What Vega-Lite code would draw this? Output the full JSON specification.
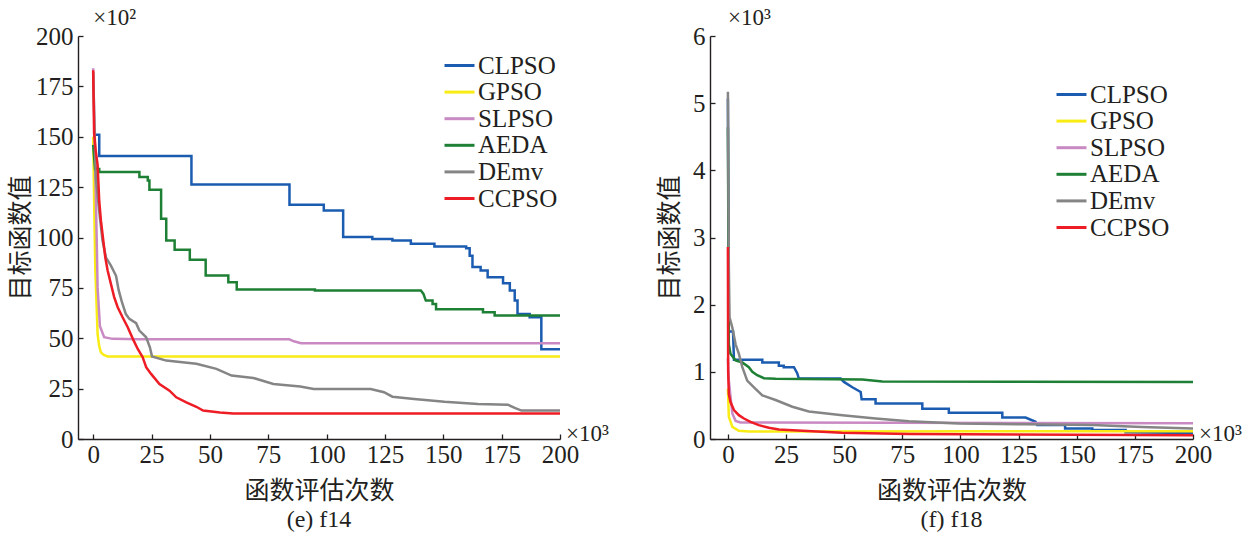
{
  "$schema": "https://vega.github.io/schema/vega-lite/v6.json",
  "autosize": {"type": "pad"},
  "padding": {"left": 8, "top": 7, "right": 5, "bottom": 5},
  "bounds": "flush",
  "spacing": 150,
  "background": "white",
  "config": {
    "view": {"stroke": null},
    "font": "Liberation Serif",
    "axis": {"domainColor": "#231f20", "domainWidth": 1.4, "tickColor": "#231f20", "tickWidth": 1.3, "tickSize": -5, "labelFont": "Liberation Serif", "labelFontSize": 25, "labelColor": "#231f20", "labelFlush": false, "labelOverlap": false, "grid": false, "titleFont": "Noto Sans CJK SC", "titleFontSize": 25, "titleFontWeight": "normal", "titleColor": "#231f20"},
    "axisX": {"labelPadding": 8, "titlePadding": 11, "labelAngle": 0},
    "axisY": {"labelPadding": 10, "titlePadding": 2},
    "legend": {"orient": "none", "title": null, "symbolType": "M-1.5,0H1.5", "symbolSize": 400, "symbolStrokeWidth": 3, "labelFont": "Liberation Serif", "labelFontSize": 25, "labelColor": "#231f20", "rowPadding": 0.6, "labelOffset": 6}
  },
  "datasets": {
    "e": [
      {"algo":"CLPSO","x":0,"y":151},{"algo":"CLPSO","x":2.6,"y":151},{"algo":"CLPSO","x":2.6,"y":140.5},{"algo":"CLPSO","x":42.1,"y":140.5},{"algo":"CLPSO","x":42.1,"y":126.3},{"algo":"CLPSO","x":84.1,"y":126.3},{"algo":"CLPSO","x":84.1,"y":116.2},{"algo":"CLPSO","x":98.8,"y":116.2},{"algo":"CLPSO","x":98.8,"y":113.4},{"algo":"CLPSO","x":107.1,"y":113.4},{"algo":"CLPSO","x":107.1,"y":100.2},{"algo":"CLPSO","x":119.6,"y":100.2},{"algo":"CLPSO","x":119.6,"y":99.3},{"algo":"CLPSO","x":128.2,"y":99.3},{"algo":"CLPSO","x":128.2,"y":98.5},{"algo":"CLPSO","x":136.1,"y":98.5},{"algo":"CLPSO","x":136.1,"y":96.9},{"algo":"CLPSO","x":146.2,"y":96.9},{"algo":"CLPSO","x":146.2,"y":95.5},{"algo":"CLPSO","x":159.8,"y":95.5},{"algo":"CLPSO","x":159.8,"y":94.7},{"algo":"CLPSO","x":161.3,"y":94.7},{"algo":"CLPSO","x":161.3,"y":91},{"algo":"CLPSO","x":162.5,"y":91},{"algo":"CLPSO","x":162.5,"y":85.3},{"algo":"CLPSO","x":166,"y":85.3},{"algo":"CLPSO","x":166,"y":83.6},{"algo":"CLPSO","x":169,"y":83.6},{"algo":"CLPSO","x":169,"y":80.3},{"algo":"CLPSO","x":175.6,"y":80.3},{"algo":"CLPSO","x":175.6,"y":77.3},{"algo":"CLPSO","x":178.5,"y":77.3},{"algo":"CLPSO","x":178.5,"y":73.7},{"algo":"CLPSO","x":180.6,"y":73.7},{"algo":"CLPSO","x":180.6,"y":68.7},{"algo":"CLPSO","x":181.8,"y":68.7},{"algo":"CLPSO","x":181.8,"y":62},{"algo":"CLPSO","x":187,"y":62},{"algo":"CLPSO","x":187,"y":60.4},{"algo":"CLPSO","x":192,"y":60.4},{"algo":"CLPSO","x":192,"y":44.5},{"algo":"CLPSO","x":200,"y":44.5},
      {"algo":"GPSO","x":0,"y":150},{"algo":"GPSO","x":0.5,"y":112},{"algo":"GPSO","x":0.9,"y":85},{"algo":"GPSO","x":1.9,"y":52},{"algo":"GPSO","x":2.6,"y":46},{"algo":"GPSO","x":3.3,"y":43},{"algo":"GPSO","x":4.5,"y":41.7},{"algo":"GPSO","x":6.2,"y":41},{"algo":"GPSO","x":200,"y":41},
      {"algo":"SLPSO","x":0,"y":184},{"algo":"SLPSO","x":0.8,"y":140},{"algo":"SLPSO","x":1.5,"y":100},{"algo":"SLPSO","x":1.9,"y":75},{"algo":"SLPSO","x":2.9,"y":56},{"algo":"SLPSO","x":4.7,"y":50.5},{"algo":"SLPSO","x":8.3,"y":49.7},{"algo":"SLPSO","x":20,"y":49.5},{"algo":"SLPSO","x":84,"y":49.5},{"algo":"SLPSO","x":86,"y":48.5},{"algo":"SLPSO","x":89,"y":47.5},{"algo":"SLPSO","x":200,"y":47.5},
      {"algo":"AEDA","x":0,"y":146},{"algo":"AEDA","x":0.8,"y":134},{"algo":"AEDA","x":2.6,"y":134},{"algo":"AEDA","x":2.6,"y":132.5},{"algo":"AEDA","x":19.8,"y":132.5},{"algo":"AEDA","x":19.8,"y":130},{"algo":"AEDA","x":23.4,"y":130},{"algo":"AEDA","x":23.4,"y":128.3},{"algo":"AEDA","x":24.1,"y":128.3},{"algo":"AEDA","x":24.1,"y":123.7},{"algo":"AEDA","x":29.1,"y":123.7},{"algo":"AEDA","x":29.1,"y":109.3},{"algo":"AEDA","x":31.3,"y":109.3},{"algo":"AEDA","x":31.3,"y":98.5},{"algo":"AEDA","x":34.9,"y":98.5},{"algo":"AEDA","x":34.9,"y":93.9},{"algo":"AEDA","x":41.4,"y":93.9},{"algo":"AEDA","x":41.4,"y":88.9},{"algo":"AEDA","x":48.2,"y":88.9},{"algo":"AEDA","x":48.2,"y":81.1},{"algo":"AEDA","x":57.9,"y":81.1},{"algo":"AEDA","x":57.9,"y":77.8},{"algo":"AEDA","x":61.5,"y":77.8},{"algo":"AEDA","x":61.5,"y":74.2},{"algo":"AEDA","x":95,"y":74.2},{"algo":"AEDA","x":95,"y":73.7},{"algo":"AEDA","x":140.4,"y":73.7},{"algo":"AEDA","x":141.5,"y":72},{"algo":"AEDA","x":142.5,"y":68.7},{"algo":"AEDA","x":145.4,"y":68.7},{"algo":"AEDA","x":145.4,"y":67},{"algo":"AEDA","x":146.9,"y":67},{"algo":"AEDA","x":146.9,"y":64.4},{"algo":"AEDA","x":167,"y":64.4},{"algo":"AEDA","x":167,"y":62.9},{"algo":"AEDA","x":172,"y":62.9},{"algo":"AEDA","x":172,"y":61.3},{"algo":"AEDA","x":200,"y":61.3},
      {"algo":"DEmv","x":0,"y":182},{"algo":"DEmv","x":1.1,"y":130},{"algo":"DEmv","x":2.6,"y":113},{"algo":"DEmv","x":4,"y":98.5},{"algo":"DEmv","x":5.5,"y":90},{"algo":"DEmv","x":7.6,"y":86},{"algo":"DEmv","x":9.8,"y":81},{"algo":"DEmv","x":10.9,"y":74},{"algo":"DEmv","x":12.3,"y":68},{"algo":"DEmv","x":14,"y":62},{"algo":"DEmv","x":15.5,"y":59.6},{"algo":"DEmv","x":18.4,"y":57.5},{"algo":"DEmv","x":19.8,"y":53.8},{"algo":"DEmv","x":22.7,"y":50.5},{"algo":"DEmv","x":24.3,"y":45.5},{"algo":"DEmv","x":25.2,"y":41},{"algo":"DEmv","x":31.3,"y":38.9},{"algo":"DEmv","x":44.2,"y":37.3},{"algo":"DEmv","x":52.8,"y":34.8},{"algo":"DEmv","x":59.3,"y":31.5},{"algo":"DEmv","x":68.6,"y":30.3},{"algo":"DEmv","x":77.2,"y":27.3},{"algo":"DEmv","x":88.7,"y":26},{"algo":"DEmv","x":94.5,"y":24.8},{"algo":"DEmv","x":118.9,"y":24.8},{"algo":"DEmv","x":124.6,"y":23.2},{"algo":"DEmv","x":128.2,"y":21},{"algo":"DEmv","x":137.5,"y":19.9},{"algo":"DEmv","x":150.5,"y":18.5},{"algo":"DEmv","x":164.8,"y":17.4},{"algo":"DEmv","x":177.7,"y":17},{"algo":"DEmv","x":180.6,"y":15.4},{"algo":"DEmv","x":183.5,"y":14.1},{"algo":"DEmv","x":200,"y":14.1},
      {"algo":"CCPSO","x":0,"y":183},{"algo":"CCPSO","x":0.4,"y":151.7},{"algo":"CCPSO","x":1.1,"y":143},{"algo":"CCPSO","x":1.9,"y":136},{"algo":"CCPSO","x":2.6,"y":118},{"algo":"CCPSO","x":3.3,"y":108.6},{"algo":"CCPSO","x":4,"y":101.8},{"algo":"CCPSO","x":5.2,"y":90},{"algo":"CCPSO","x":6.2,"y":83.6},{"algo":"CCPSO","x":7.6,"y":77},{"algo":"CCPSO","x":9,"y":70.4},{"algo":"CCPSO","x":10.5,"y":65.4},{"algo":"CCPSO","x":12.6,"y":60.4},{"algo":"CCPSO","x":14.8,"y":55.5},{"algo":"CCPSO","x":17,"y":49.7},{"algo":"CCPSO","x":19.1,"y":44.7},{"algo":"CCPSO","x":21.2,"y":40.6},{"algo":"CCPSO","x":22.7,"y":35.6},{"algo":"CCPSO","x":24.8,"y":32.3},{"algo":"CCPSO","x":28.4,"y":27.3},{"algo":"CCPSO","x":32.7,"y":24},{"algo":"CCPSO","x":35.6,"y":20.7},{"algo":"CCPSO","x":39.9,"y":18.2},{"algo":"CCPSO","x":44.2,"y":16},{"algo":"CCPSO","x":47.1,"y":14.1},{"algo":"CCPSO","x":54.3,"y":13.2},{"algo":"CCPSO","x":60,"y":12.7},{"algo":"CCPSO","x":200,"y":12.7}
    ],
    "f": [
      {"algo":"CLPSO","x":0,"y":5.07},{"algo":"CLPSO","x":0.4,"y":1.6},{"algo":"CLPSO","x":2.2,"y":1.6},{"algo":"CLPSO","x":2.6,"y":1.18},{"algo":"CLPSO","x":14.8,"y":1.18},{"algo":"CLPSO","x":14.8,"y":1.14},{"algo":"CLPSO","x":21.9,"y":1.14},{"algo":"CLPSO","x":21.9,"y":1.09},{"algo":"CLPSO","x":24,"y":1.09},{"algo":"CLPSO","x":24,"y":1.07},{"algo":"CLPSO","x":28.4,"y":1.07},{"algo":"CLPSO","x":29.8,"y":0.98},{"algo":"CLPSO","x":30.5,"y":0.9},{"algo":"CLPSO","x":48.5,"y":0.9},{"algo":"CLPSO","x":49.9,"y":0.85},{"algo":"CLPSO","x":53.5,"y":0.77},{"algo":"CLPSO","x":57.1,"y":0.7},{"algo":"CLPSO","x":57.5,"y":0.59},{"algo":"CLPSO","x":63.5,"y":0.59},{"algo":"CLPSO","x":63.5,"y":0.53},{"algo":"CLPSO","x":83.6,"y":0.53},{"algo":"CLPSO","x":83.6,"y":0.45},{"algo":"CLPSO","x":95,"y":0.45},{"algo":"CLPSO","x":95,"y":0.39},{"algo":"CLPSO","x":118,"y":0.39},{"algo":"CLPSO","x":118,"y":0.32},{"algo":"CLPSO","x":128,"y":0.32},{"algo":"CLPSO","x":132.3,"y":0.256},{"algo":"CLPSO","x":133,"y":0.207},{"algo":"CLPSO","x":145,"y":0.207},{"algo":"CLPSO","x":145,"y":0.158},{"algo":"CLPSO","x":156.7,"y":0.158},{"algo":"CLPSO","x":156.7,"y":0.133},{"algo":"CLPSO","x":171,"y":0.133},{"algo":"CLPSO","x":171,"y":0.1},{"algo":"CLPSO","x":200,"y":0.09},
      {"algo":"GPSO","x":0,"y":0.75},{"algo":"GPSO","x":0.4,"y":0.33},{"algo":"GPSO","x":1.9,"y":0.18},{"algo":"GPSO","x":4.7,"y":0.123},{"algo":"GPSO","x":9,"y":0.113},{"algo":"GPSO","x":200,"y":0.115},
      {"algo":"SLPSO","x":0,"y":1.2},{"algo":"SLPSO","x":0.4,"y":0.87},{"algo":"SLPSO","x":1.9,"y":0.38},{"algo":"SLPSO","x":3.3,"y":0.27},{"algo":"SLPSO","x":5.4,"y":0.246},{"algo":"SLPSO","x":200,"y":0.235},
      {"algo":"AEDA","x":0,"y":4.64},{"algo":"AEDA","x":0.4,"y":1.41},{"algo":"AEDA","x":1.1,"y":1.27},{"algo":"AEDA","x":3.3,"y":1.17},{"algo":"AEDA","x":6.2,"y":1.14},{"algo":"AEDA","x":9,"y":1.07},{"algo":"AEDA","x":10.5,"y":1.0},{"algo":"AEDA","x":12.6,"y":0.95},{"algo":"AEDA","x":15.5,"y":0.906},{"algo":"AEDA","x":20.5,"y":0.897},{"algo":"AEDA","x":57.8,"y":0.887},{"algo":"AEDA","x":66.4,"y":0.857},{"algo":"AEDA","x":200,"y":0.85},
      {"algo":"DEmv","x":0,"y":5.17},{"algo":"DEmv","x":0.4,"y":2.55},{"algo":"DEmv","x":0.7,"y":1.81},{"algo":"DEmv","x":1.9,"y":1.66},{"algo":"DEmv","x":3.3,"y":1.41},{"algo":"DEmv","x":4.7,"y":1.27},{"algo":"DEmv","x":6.2,"y":1.07},{"algo":"DEmv","x":8.3,"y":0.87},{"algo":"DEmv","x":11.2,"y":0.77},{"algo":"DEmv","x":14.8,"y":0.65},{"algo":"DEmv","x":20.5,"y":0.58},{"algo":"DEmv","x":27.7,"y":0.48},{"algo":"DEmv","x":34.8,"y":0.41},{"algo":"DEmv","x":49.2,"y":0.355},{"algo":"DEmv","x":63.5,"y":0.305},{"algo":"DEmv","x":77.8,"y":0.266},{"algo":"DEmv","x":99.4,"y":0.23},{"algo":"DEmv","x":128,"y":0.22},{"algo":"DEmv","x":156.7,"y":0.207},{"algo":"DEmv","x":178,"y":0.18},{"algo":"DEmv","x":200,"y":0.158},
      {"algo":"CCPSO","x":0,"y":2.86},{"algo":"CCPSO","x":0.1,"y":1.02},{"algo":"CCPSO","x":0.4,"y":0.67},{"algo":"CCPSO","x":1.1,"y":0.55},{"algo":"CCPSO","x":2.6,"y":0.43},{"algo":"CCPSO","x":4.7,"y":0.355},{"algo":"CCPSO","x":6.9,"y":0.305},{"algo":"CCPSO","x":9.7,"y":0.256},{"algo":"CCPSO","x":13.3,"y":0.207},{"algo":"CCPSO","x":17.6,"y":0.167},{"algo":"CCPSO","x":21.9,"y":0.143},{"algo":"CCPSO","x":32,"y":0.123},{"algo":"CCPSO","x":49,"y":0.094},{"algo":"CCPSO","x":78,"y":0.074},{"algo":"CCPSO","x":200,"y":0.054}
    ]
  },
  "hconcat": [
    {
      "width": 482, "height": 403,
      "title": {"text": "(e) f14", "orient": "bottom", "offset": 5, "font": "Liberation Serif", "fontSize": 24, "fontWeight": "normal", "color": "#231f20"},
      "layer": [
        {
          "data": {"name": "e"},
          "mark": {"type": "line", "strokeWidth": 2.5},
          "encoding": {
            "x": {"field": "x", "type": "quantitative", "scale": {"domain": [-6.5, 200], "nice": false, "zero": false}, "axis": {"values": [0,25,50,75,100,125,150,175,200], "title": "函数评估次数"}},
            "y": {"field": "y", "type": "quantitative", "scale": {"domain": [0, 200], "nice": false}, "axis": {"values": [0,25,50,75,100,125,150,175,200], "title": "目标函数值"}},
            "color": {"field": "algo", "type": "nominal", "scale": {"domain": ["CLPSO","GPSO","SLPSO","AEDA","DEmv","CCPSO"], "range": ["#1b5cb1","#f8ec14","#c98ac4","#1e8035","#858585","#ee1c25"]}, "legend": {"legendX": 369, "legendY": 17}}
          }
        },
        {
          "data": {"values": [{"x": 0, "y": 200, "t": "×10²"}]},
          "mark": {"type": "text", "align": "left", "baseline": "middle", "dy": -18, "fontSize": 23, "font": "Liberation Serif", "color": "#231f20"},
          "encoding": {"x": {"field": "x", "type": "quantitative"}, "y": {"field": "y", "type": "quantitative"}, "text": {"field": "t"}}
        },
        {
          "data": {"values": [{"x": 200, "y": 0, "t": "×10³"}]},
          "mark": {"type": "text", "align": "left", "baseline": "middle", "dx": 6, "dy": -5, "fontSize": 23, "font": "Liberation Serif", "color": "#231f20"},
          "encoding": {"x": {"field": "x", "type": "quantitative"}, "y": {"field": "y", "type": "quantitative"}, "text": {"field": "t"}}
        }
      ]
    },
    {
      "width": 483, "height": 403,
      "title": {"text": "(f) f18", "orient": "bottom", "offset": 5, "font": "Liberation Serif", "fontSize": 24, "fontWeight": "normal", "color": "#231f20"},
      "layer": [
        {
          "data": {"name": "f"},
          "mark": {"type": "line", "strokeWidth": 2.5},
          "encoding": {
            "x": {"field": "x", "type": "quantitative", "scale": {"domain": [-7.7, 200], "nice": false, "zero": false}, "axis": {"values": [0,25,50,75,100,125,150,175,200], "title": "函数评估次数"}},
            "y": {"field": "y", "type": "quantitative", "scale": {"domain": [0, 6], "nice": false}, "axis": {"values": [0,1,2,3,4,5,6], "format": "d", "title": "目标函数值", "titlePadding": 10}},
            "color": {"field": "algo", "type": "nominal", "scale": {"domain": ["CLPSO","GPSO","SLPSO","AEDA","DEmv","CCPSO"], "range": ["#1b5cb1","#f8ec14","#c98ac4","#1e8035","#858585","#ee1c25"]}, "legend": {"legendX": 349, "legendY": 46}}
          }
        },
        {
          "data": {"values": [{"x": 0, "y": 6, "t": "×10³"}]},
          "mark": {"type": "text", "align": "left", "baseline": "middle", "dy": -18, "fontSize": 23, "font": "Liberation Serif", "color": "#231f20"},
          "encoding": {"x": {"field": "x", "type": "quantitative"}, "y": {"field": "y", "type": "quantitative"}, "text": {"field": "t"}}
        },
        {
          "data": {"values": [{"x": 200, "y": 0, "t": "×10³"}]},
          "mark": {"type": "text", "align": "left", "baseline": "middle", "dx": 6, "dy": -5, "fontSize": 23, "font": "Liberation Serif", "color": "#231f20"},
          "encoding": {"x": {"field": "x", "type": "quantitative"}, "y": {"field": "y", "type": "quantitative"}, "text": {"field": "t"}}
        }
      ]
    }
  ],
  "resolve": {"scale": {"color": "independent"}}
}
